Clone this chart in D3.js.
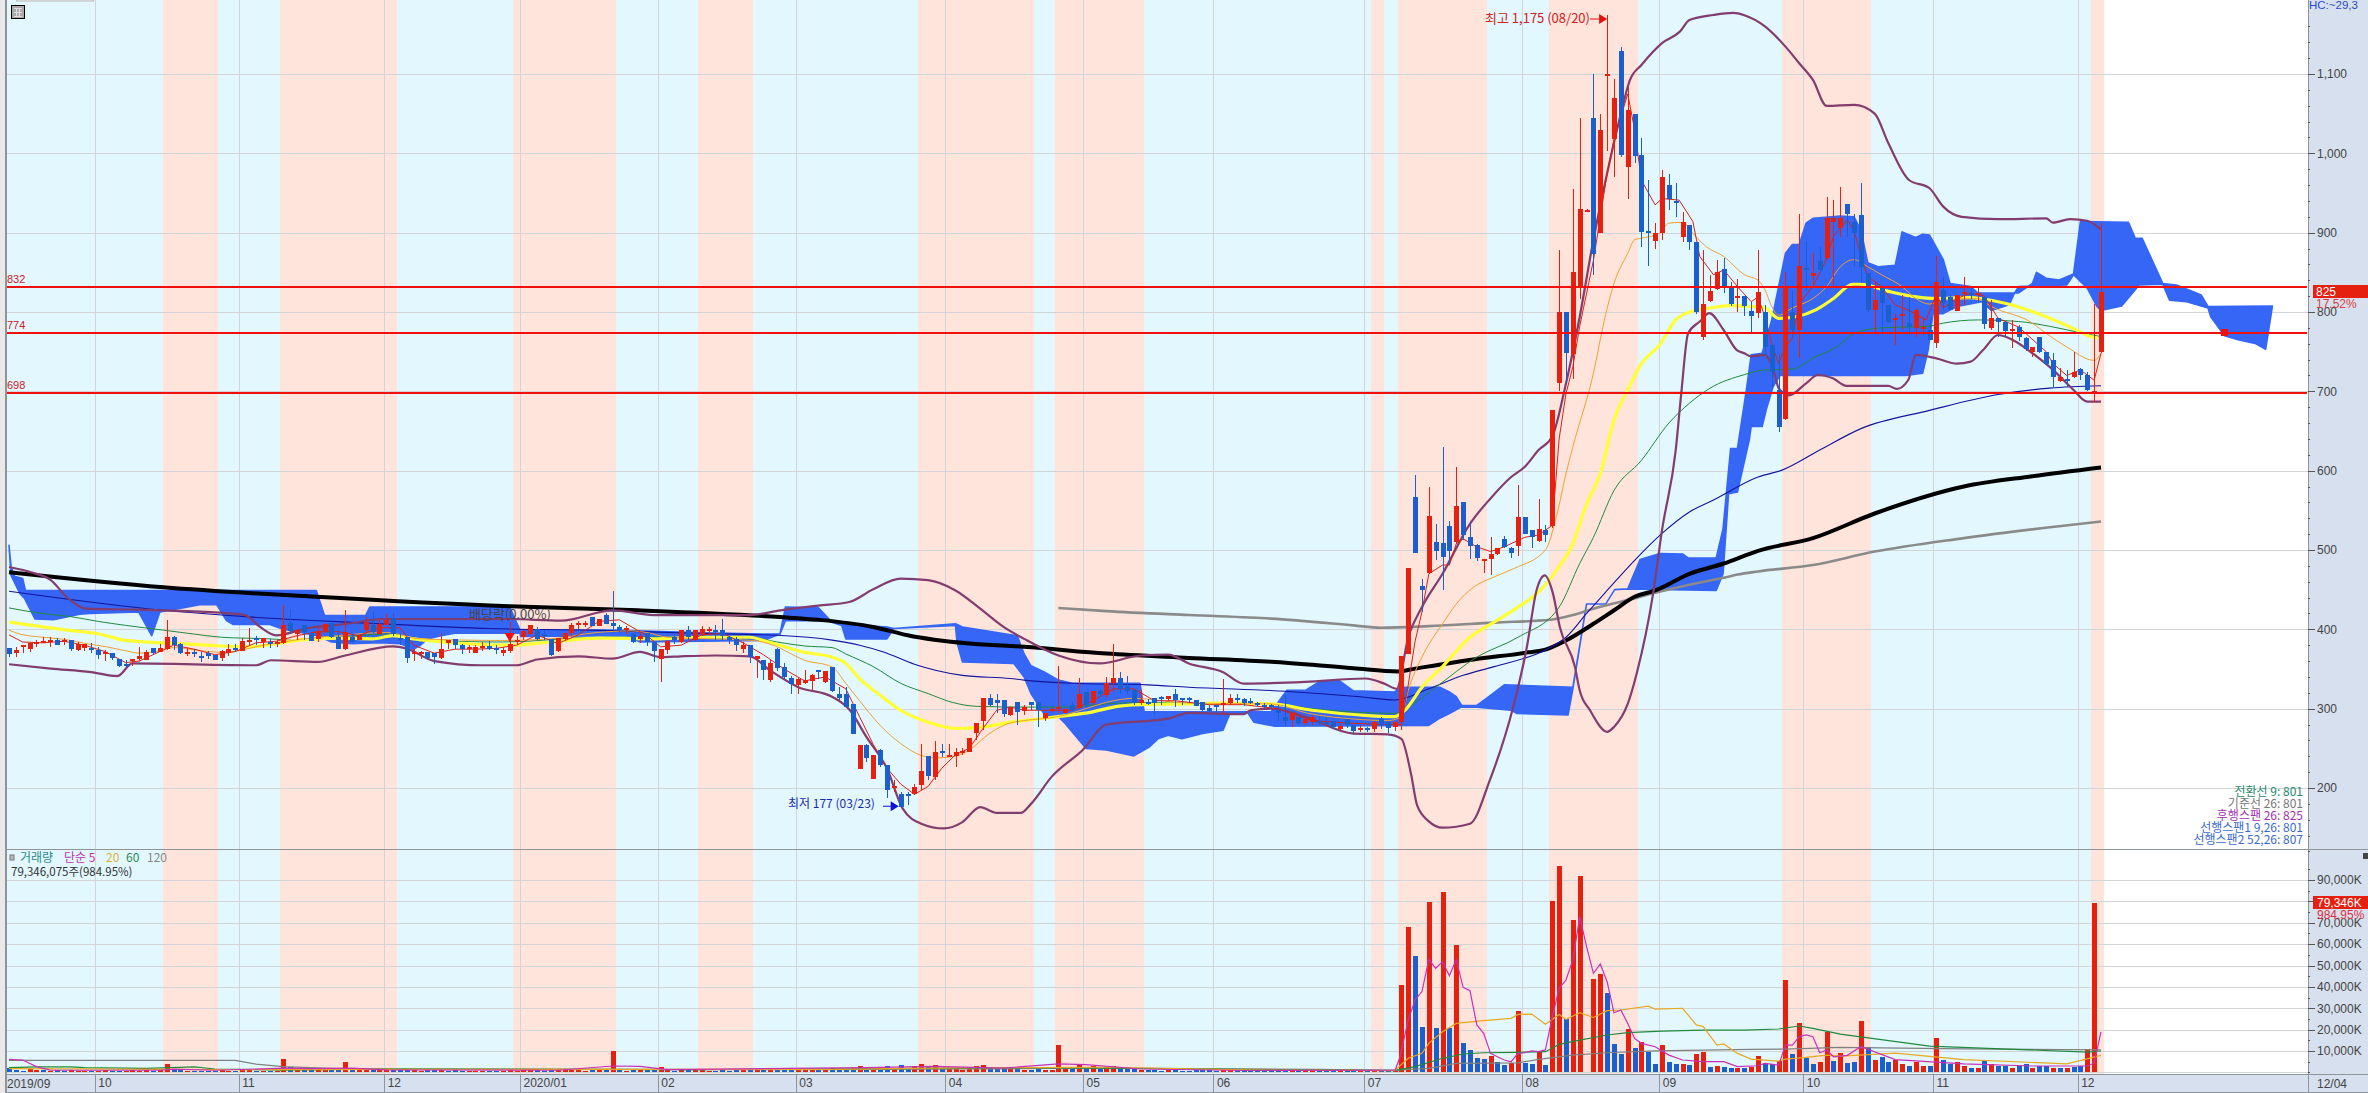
<!DOCTYPE html>
<html><head><meta charset="utf-8">
<style>html,body{margin:0;padding:0;background:#fff;overflow:hidden}svg{display:block}
text{font-family:"Liberation Sans",Arial,sans-serif}
.kr{font-family:"Noto Sans CJK KR","Liberation Sans",sans-serif}</style>
<script src="https://cdn.jsdelivr.net/npm/d3@7/dist/d3.min.js"></script>
</head><body><svg id="c" width="2368" height="1093"></svg>
<script>
// ---- candles: [open, high, low, close]
const candles2019=[[377,377,365,369],[370,378,365,374],[378,380,370,380],[375,383,371,383],[382,387,378,384],[384,390,383,385],[384,390,378,387],[387,389,380,381],[385,389,380,386],[387,387,373,376],[373,384,373,381],[376,381,373,381],[377,383,370,374],[374,378,363,368],[368,374,360,371],[370,370,361,364],[363,363,353,354],[356,361,352,355],[359,363,354,362],[362,378,360,366],[362,374,361,372],[377,377,368,371],[372,382,371,377],[375,412,374,390],[390,392,374,380],[381,383,369,370],[370,377,366,372],[372,375,365,370],[367,371,359,365],[370,373,363,366],[368,368,361,362],[364,374,360,373],[370,382,367,375],[376,382,371,375],[373,389,373,385],[385,402,380,386],[389,392,380,387],[384,389,377,389],[384,388,377,382],[383,388,378,384],[383,431,381,406],[408,426,394,398],[394,401,386,399],[405,405,387,396],[396,396,386,386],[388,403,384,398],[398,408,396,407],[408,408,389,390],[390,399,375,375],[375,425,374,397],[390,394,383,384],[387,393,386,393],[399,415,396,409],[405,422,395,396],[395,413,394,407],[406,419,405,412],[414,420,392,394],[389,394,380,386],[390,390,357,364],[370,375,360,371],[368,373,363,371],[371,371,361,363]];
const candles2020a=[[370,370,356,365],[364,394,363,375],[382,386,375,386],[388,388,375,380],[380,382,369,375],[375,380,370,378],[370,380,370,378],[378,384,373,379],[379,385,374,375],[377,380,369,375],[370,378,367,374],[372,409,370,381],[384,391,380,386],[390,399,386,398],[394,405,393,405],[401,403,386,388],[393.5,399,386,392],[388,388,367,368],[372,389,371,389],[387,395,385,395],[395,408,391,405],[407,411,401,408],[407,411,403,408],[415,416,404,404],[404,413,404,413],[418,420,407,407],[408,448,399,404],[403,405,396,399],[400,404,394,402],[394,396,383,384],[388,396,383,392],[396,396,379,385],[384,384,359,373],[363,375,333,375],[374,387,369,385],[390,392,381,386],[384,399,383,399],[399,404,386,390],[386,399,385,399],[394,404,392,400],[399,403,394,401],[399,405,386,396],[399,413,386,391],[390,392,382,386],[388,390,373,380],[375,384,370,380],[380,380,357,365],[363,367,339,367],[361,361,336,348],[335,361,334,357],[375.5,377,348,352],[353,357,338,340],[339,341,319,331],[330,339,319,337],[332,349,331,336],[335,344,323,343],[349,349,338,346],[333,347,332,347],[352,352,321,322],[319,327,311,314],[318,327,304,302]];
const candles2020b=[[306,306,268,268],[224,254,224,254],[254,256,233,238],[211,241,211,241],[248,249,227,229],[229,229,188,197],[200,210,195,202],[193,195,177,177],[192,195,178,190],[192,205,191,201],[204,256,197,222],[240,240,210,215],[215,259,210,246],[247,256,239,246],[239,255,239,241],[240,250,226,245],[246,250,241,247],[245,263,245,263],[269,282,260,282],[284,313,273,313],[313,318,303,304],[311,319,295,307],[311,311,289,293],[292,302,291,302],[308,308,280,295],[297,304,292,302],[308,308,298,304],[308,308,277,298],[288,294,285,294],[298,302,296,300],[300,354,294,302],[295,300,294,300],[304,308,297,298],[300,339,299,318],[321,321,302,304],[307,322,305,322],[322,325,315,318],[317,340,314,332],[333,382,321,339],[339,346,319,325],[329,341,318,323],[324,324,304,308],[307,323,304,311],[308,312,304,306],[313,313,292,307],[315,316,304,313],[312,316,310,316],[319,325,302,312],[313,313,304,311],[313,315,307,311],[311,311,303,304],[309,309,297,299],[301,304,296,297],[304,305,295,303],[304,337,292,307],[307,319,305,313],[313,319,307,311],[312,314,303,307],[310,313,306,308],[307,308,303,305],[305,307,301,303],[304,306,299,301],[298,304,284,294],[290,317,280,284.5],[286,296,277,295],[290,290,280,282],[282,288,279,287],[283,292,279,289],[285,289,280,283],[283,289,280,281],[284,285,275,277],[274,281,273,278],[287,287,276,280],[280,280,269,272],[274,279,271,276],[276,277,271,275],[274,285,271,283],[287,290,275,279],[283,285,269,275],[277,285,272,283],[283,366,273,366],[369,477,369,477]];
const candles2020c=[[567,594,496,496],[454,464,422,449],[471,579.5,470,542.5],[510,533,487,499],[509,630,449,491],[530,537,481,499],[511,604,508,556],[561,561,512,520],[516,535,489,505],[506,508,486,490],[487,489,471,489],[489,516,468,495],[495,502,494,502],[514,518,503,504],[502,504,490,496],[504,582,493,541],[542,542,520,521],[525,525,503,516],[511.5,564,510,526],[525,531,510,519],[530,676,528,676],[710,878,700,799.6],[799.6,799.6,710,748],[748,954.6,716,851],[830,1044,817,929.4],[928,930,928,929],[1044,1100,847,872],[899,1050,899,1029.4],[1099,1175,1003,1100],[1018,1094,970,1070],[1129,1134.5,995,998],[983,1083,942,1055],[1050,1050,988,997],[998,1019,882,901],[902,966,858,901],[889,912,880,899],[900,979,891,970],[960,974,929,942],[940,963,920,939],[894,926,888,913],[910,910,878,888],[888,888,798,800],[768,878,765,810],[813,847,813,826],[829,866,828,850],[854,868,824,832],[833,838,808,810],[819,842,800,820],[820,820,795,808],[801,813,775,795],[798,878,792,825],[800,809,746,756],[759,759,704,725],[702,746,649,655],[665,851,664,832],[800,826,769,777],[777,924,742,858],[856,889,826,854],[845,874,832,849],[864,882,851,853],[868,945,866,918],[914,941,834,919],[906,957,895,919],[936,936,895,923],[913,924,857,899],[922,963,836,857],[849,849,800,802.5],[802.5,836,773,815],[830,830,773,811],[809,809,786,788],[789,798,758,792],[796,821,779,798],[786,819,771,781],[779,805,769,802],[780,794,771,781],[777,794,765,765],[761,870,754,838],[828,844,802,811],[819,823,803,803],[802,822,802,822],[823,844,809,825],[824,832,816,823],[821.5,831,814,823.5],[819,819,779,785],[780,815,777,792],[792,792,769,787],[787,787,769,776],[776,790,755,778],[781,783,764,769],[767,769,751,753],[750,756,743,756],[768,768,748,749],[750,750,733,735],[739,748,704,718],[713,729,712,718],[715,727,706,713],[718,749,717,724],[728,729,714,721],[721,724,701,702],[698,810,687,701],[749,912,748,825]];
const candles=candles2019.concat(candles2020a,candles2020b,candles2020c);

// ---- volume, thousand K; negative = drawn blue
const volA=[-1.9,-1.1,-.6,1.6,1.1,-.9,.8,-.9,-.8,.9,.7,.6,-.7,.5,1.1,-.5,-.7,.7,1,.8,1.2,-.7,1,3.9,-1.5,-1,.8,-.6,-.7,-.7,-.6,1,.7,-.6,1.2,.9,-.7,.6,-.7,.8,6.2,-2.4,1.1,-1,-.9,1.4,1.5,-1.2,-1.1,4.8,-1.7,1.1,1.4,-1.5,1.3,.9,-1.6,-1.2,-1.8,1.1,.8,-.9];
const volB=[-.9,1.5,-.8,-.9,-.7,.7,.8,.6,-.6,-.6,.8,1.3,.8,1.2,1.4,-1,-.8,-1.4,1.2,1.1,1.4,.9,.8,-1.3,.9,-1.3,10,-1.2,.8,-1,.9,-1.2,-1.5,2.6,1.3,-.8,1.4,-1.1,1.3,1.1,.8,-.8,-1.1,-.8,-.9,.9,-1.3,1.8,-1.4,2,-1.6,-1.2,-1,1.1,1,1.3,-.9,1.4,-2,-1.3,-1.5];
const volC=[-2,3,-1.9,2.6,-1.8,-3.2,1.5,-3.5,-1.9,3,3.8,-2.6,3.4,-1.7,1.6,2,1.2,2.6,2.8,3.6,-2.2,-1.7,-1.9,1.4,-1.8,1.2,-1.3,-1.5,1.2,1,12.8,2,-1.4,3.5,-2,2.8,-1.4,2.6,3.2,-2,-1.6,-1.6,1.1,-.9,-1.1,-.8,.9,-1.1,-.7,-.7,-1,-1.2,-.9,-.7,1.8,1.2,-.7,-.8,-.6,-.6,-.6,-.7,-1,-1.2,1,-.8,.8,.8,-.6,-.6,-.8,.6,-.8,-.9,.5,-.5,.9,-.8,-.8,.7];
const volD=[40.9,68,-54.4,-21.2,79.7,-20.7,84.2,-20.9,59.6,-13.7,-10.5,-6.7,-6.2,7.6,-5,-3.4,4.4,28.7,-4.4,-3.9,9.4,-3.4,80.2,96.6,-25,71.3,91.9,0,43.7,46,-37.1,-13.3,-8.6,20.3,-11.4,14.2,-9.5,-3.9,12.8,-4.8,-3.9,3.9,-3.4,8.6,9.5,-2.5,3,-2.5,-2,2,-2.2,2.5,7.6,-4.4,-3.9,5.3,43.2,-8.6,23.1,-6.7,-3.9,4.8,19,-5.3,8.9,-4.5,-5,24,-12,6,-7,-5,6,4,-3,5,3,-3,16,-6,-4,5,3,-2,2,-6,4,-3,-3,2,-3,-4,2,-3,-3,2,-2,2,-2.5,-3,11,79.346];
const volumes=volA.concat(volB,volC,volD);

// ---- moving averages and bands as [bar, value] readings
const ma5=[[0,393],[2,384],[5,383],[8,385],[11,380],[14,372],[17,358],[19,360],[21,368],[24,380],[27,375],[30,368],[33,372],[36,383],[39,385],[42,392],[45,397],[48,397],[51,392],[54,402],[57,402],[59,380],[62,370],[65,375],[68,375],[71,376],[74,380],[77,393],[80,382],[83,393],[86,410],[89,412],[91,402],[93,392],[95,378],[98,380],[101,393],[104,395],[107,383],[110,368],[113,350],[116,335],[119,340],[122,325],[124,290],[126,255],[128,225],[130,205],[132,192],[134,202],[136,225],[138,242],[140,250],[142,275],[144,298],[146,302],[148,298],[152,298],[155,298],[158,310],[161,325],[164,325],[167,310],[170,310],[175,305],[180,305],[185,300],[190,285],[195,282],[200,280],[203,280],[204,330],[205,385],[206,422],[207,470],[209,481],[210,481],[211,508],[212,514],[214,504],[216,498],[218,504],[221,516],[223,519],[225,531],[226,640],[227,697],[228,731],[229,782],[231,865],[233,975],[234,1017],[236,1075],[237,1030],[238,966],[240,935],[241,943],[243.5,941],[245.5,914],[246.5,870],[248.5,847],[250,853],[252,832],[254,813],[255,819],[256,794],[257,760],[258,735],[259,756],[260,767],[261,811],[263,832],[264.7,861],[266,895],[268,916],[269,903],[270,870],[271,845],[273,832],[275,809],[277,802],[279.5,790],[281,823],[282,805],[284,817],[286,824],[288,820],[290,792],[293,781],[297,750],[298,735],[300,720],[302,727],[304,714],[305,748]];
const ma20=[[0,399],[1.6,394],[5,390],[8.4,387],[11.3,382],[14.2,378],[17,373],[19,370],[22,373],[24,377],[28,373],[31,371],[34,374],[37,380],[40,384],[43,388],[48,392],[55,396],[60,388],[72,386],[79,388],[85.7,396],[90.7,398],[93,396],[96,390],[108.5,386],[111.4,380],[116,361],[120,352.6],[122,332],[124,310],[127,279],[130,256],[133,241],[135,238],[138,240],[140,248],[143,269],[145.6,281],[148,285],[153,290],[157,300],[160,308],[164,313],[172,307],[184,306],[189.5,294],[196,287],[201,285],[203,290],[204,323],[206,365],[209,407],[211,432],[213.5,453],[216.5,466],[219.5,477],[224,500],[225.6,542],[227,596],[228,630],[231,723],[232.6,790],[234,836],[236,874],[237,891],[238,893],[240.6,899],[242,912],[244,913],[245.5,899],[247.5,882],[250,870],[253,847],[255,840],[256,828],[257,807],[258,796],[260,805],[263,817],[265,832],[267,857],[269,866],[271,857],[273,847],[276,832],[278,817],[280,810],[282,815],[287,817],[289,807],[295,786],[297,773],[300,756],[304,739],[305,748]];
const ma60=[[0,409],[5,403],[8.5,399],[13,394.4],[17,386],[22.5,383],[27,381],[31,379],[35,378],[39,382],[43,387],[48,389],[53,388],[56,392],[59,388],[61,386],[73,380],[79,384],[86,389],[94,388],[101,390],[108,390],[110,386],[116,371],[120,365],[122,357],[124,338],[127,317],[130,298],[134,283],[138,275],[142,277],[146,283],[150,287],[153,290],[158,296],[161,302],[165,305],[172,306],[177,307],[184,306],[190,298],[197,292],[202,290],[203.5,298],[206,327],[209,353],[213,390],[216.5,409],[220,428],[223,447],[226,479],[228,508],[230,558],[232,596],[234,664],[236,702],[238,735],[240.6,758],[243,790],[245,800],[248,805],[251,808],[254,807],[256,805],[258,792],[260.5,794],[263.5,803],[266,817],[268.8,835],[270,835],[274,826],[278,819],[281,817],[285.5,818],[291,811],[297,794],[302,775],[303.5,769],[304.5,767]];
const maGreen=[[0,427],[4,421],[9,416],[13,410],[17,405],[22.5,399],[27,394],[31,390],[38,388],[42,386],[48,390],[55,394],[59,388],[61,386],[72,384],[86,390],[94,390],[108,390],[112,384],[116,379],[120,377],[122,369],[126,353],[130,332],[134,319],[137.5,308],[141,303],[148,302],[154,302],[160,306],[166,308],[172,307],[184,306],[190,300],[202,294],[204,302],[208,327],[214,365],[220,390],[226,428],[229,483],[231,516],[234,575],[238,613],[242,660],[245,685],[248,704],[253,721],[256,727],[260,728],[263,742],[266.5,756],[269,773],[273,780],[279.8,782],[282,786],[287,790],[293,788],[297.5,782],[302.5,773],[305,769]];
const ma120=[[0,448],[22.5,424],[31,418],[38,414],[52,408],[70,401],[85,399],[100,395],[112,392.5],[120,386.4],[124,380],[127.5,371.5],[132,356],[139,342],[146,338],[148,336],[155,332],[166,330],[172,327],[186,322],[197,315],[202,311],[207,325],[212,342],[216.5,353],[224,374],[227,390],[230,420],[233,449],[237,487],[241,521],[245,548],[248.5,563],[255,592],[258.6,601],[264,626],[270,653],[280,676],[290,696],[297.5,704],[305,707]];
const ma240=[[0,472],[22.5,453],[44.8,441],[73,429],[91.7,424],[112.4,415.5],[118,412],[126,403],[131,392.5],[140,382],[148,378],[160,369.4],[172,364],[184,359],[196,351],[202.5,347],[205,350.5],[213.5,362],[221.5,371],[224,374.5],[227,386],[231,407],[234,424],[237,441],[240,449],[245,470],[250,483],[255,499],[263,515],[272,546],[285,580],[295,593],[305,604]];
const maGray=[[153,427],[160,423],[172,418],[184,413.5],[196,405],[200,402],[207,404],[216.5,408.5],[224.7,412],[228,418],[231,426],[236,437],[240,446],[246,458],[250,465],[252,469],[255,473],[263,481],[272,498],[285,515],[305,536]];
const bbUpper=[[0,478.6],[3.2,472],[6.1,462],[8.4,441],[11.3,426],[17.3,425],[22.5,424],[30.7,421],[34.4,418],[36.6,403],[38.9,392.5],[43.3,401],[49.3,407],[54.5,413],[63.4,413],[73,413],[80.5,411],[88,424],[94,418],[99,418],[108,418],[112.5,424],[118,430],[122.5,434.5],[126,450.5],[130,464],[134,462],[138,449],[141.6,426],[145,403],[148,388],[153,367],[159,357],[165,367],[169,368],[172,357],[177,346],[180,331.6],[189,333.7],[197.7,338],[200.5,331.6],[202.3,325],[204,390],[206,428],[209,470],[213,533],[216,565],[219,592],[221,605],[223,626],[225,643],[227,710],[229,794],[231,891],[233,975],[235,1050],[236.3,1092],[238,1111.4],[241,1139],[243.6,1153.4],[245,1168],[248.5,1174.4],[251.4,1177],[253,1174],[256,1160],[259,1134.5],[261,1113.5],[263,1092.5],[265,1059.7],[269,1061],[272,1050],[274,1012.6],[277,966.4],[280,956],[282,932.8],[284.7,920],[290,917],[297,918],[298,912.6],[300.5,917],[303,915],[305,904]];
const bbLower=[[0,356],[6.1,350.5],[12,346],[15.8,341],[18,357],[36,354.7],[38.2,361],[45,359],[49,367],[56,378.6],[58,375.7],[62,360],[69,354.7],[74,354.7],[77,362],[83,366],[88,363],[92,371.5],[95,365],[98,366],[103,367],[108,366],[111,348],[115,327.4],[120,315],[122.6,298],[125,264.4],[128,224.5],[130.3,174],[133,155],[136.3,149],[139,157],[141.6,176],[144,168.6],[147.5,168.6],[149,180],[152,214],[156.5,247.6],[160,280],[169,287.5],[172,294.6],[180,293],[181,298],[184,300],[189,289.6],[196,268.6],[201,267.7],[203,262],[204.4,218],[205.3,178],[207,158],[209,150],[213,155],[215.9,210],[219.3,302],[221.3,378],[222.7,449],[223.9,468],[225.1,445],[226.1,403],[228.3,352.7],[229,323],[230.5,298],[233,270.8],[234,277],[236,306],[237.3,344],[239.7,445],[241,525],[243,626],[243.8,697],[244.8,773],[246.5,788],[247.9,798.5],[250,777],[251.9,752],[253,748],[254,744],[256,746],[257.4,722.6],[258,704],[259.5,695],[262,710],[263.7,720.6],[265.9,716.4],[267.9,707],[274,707],[275.2,703],[276.9,714.3],[278,746],[281,741.6],[284,735],[286,737.4],[287.8,752],[290,771],[292.6,762.6],[295,748],[298,727],[301,701.7],[303,687],[305,687]];

// ---- ichimoku cloud edges as [bar, value]
const cloudUpper=[[0,506],[.3,479],[.8,467],[2,464],[2.4,449],[44.8,449],[46,417.5],[52,417.5],[52.6,428],[73,428],[74.5,399],[88,399],[100,396],[110,394],[112.4,394],[113.2,428],[118,427],[120,409],[121.4,407],[128,403],[129,401],[138,407],[139,403],[147,392],[148,369],[149,354],[151,346],[153,336],[155,332],[164.9,332],[165.5,296],[180.5,296],[184,296],[186.3,323],[189,323],[191,333.7],[194,335],[196,322.4],[202,321],[203,327],[208.6,327],[210,321],[211,315],[211.8,304],[214,304],[215.7,315],[218,330],[228,327],[230,432],[232.8,432],[234.1,450],[236,451],[237.8,488],[240.7,495.5],[244,495],[244.8,490],[248.9,490],[249.9,527],[251,628],[252,628],[253.3,702],[254,746],[255.6,748],[257,790],[259,874],[260,885],[261,885],[262,912],[263,918],[267,921],[269,920],[270,903],[271,862],[272.5,857],[275,859],[276,901],[278,894],[279,898],[280,897],[282,866],[283,836],[286,832],[287,824],[293,824],[295,836],[295.6,850],[297,842.5],[298.9,840.4],[301,848],[302,914],[309,913],[310,893],[311,893],[314,836],[316,834],[319.6,821.5],[320.6,807],[330,807.6]];
const cloudLower=[[0,506],[.3,468],[1.6,445],[2.3,438.5],[3.8,413],[6.5,412],[10.3,419],[11.8,420],[18.9,422],[20.8,392],[22,422],[25.9,428],[27.8,431],[30.3,431],[31.7,411],[32.7,406],[38,406],[40,400],[45,392],[47,384],[50,382],[54,383],[57,382],[59,375],[60,380],[61,388],[63,392],[65,395],[74.5,395],[74.6,391],[90,392],[92,384],[110,386],[112.4,394],[113.2,411],[119.6,411],[120,409],[121.4,405],[122,388],[128,388],[129,401],[138,405],[138.2,384],[139,359],[146.5,357],[148,340],[149,319],[151,292],[153,290],[154,281],[157,250],[160,248],[164,240.5],[166.3,252],[167.5,262],[169,266.5],[171,262],[174,268.6],[177,273],[178,294],[180.5,296],[181.5,283],[184.5,278],[207,279],[208.6,288],[210,294],[211.7,302],[214,302],[219,298],[219.8,294],[227.3,292],[228,325],[230,432],[232.8,432],[234.1,450],[236,451],[248.9,449],[249.9,470],[250.7,571],[252,573],[253.7,638],[254,655.6],[255.6,655.7],[256.2,677],[257.2,706],[258.2,720],[276.6,720],[279,723],[279.8,752],[280.5,798],[282,798],[284,807],[287.6,813],[289,802],[291.6,809],[292.4,824],[293,832],[300,834],[301,847],[303,830],[304.4,807],[305,802],[308,807.6],[310,828],[310.5,834],[314,835],[315,815],[317.5,813],[320.6,805],[321,794],[323,770],[325,765],[327.6,760],[329,753],[330,807.6]];

// ---- volume averages as [bar, thousand K]
const vma5=[[0,6.1],[2,5.8],[4,2.7],[6,1.1],[22,1],[24,1.5],[30,1],[40,2],[44,1.8],[50,2],[55,1.2],[80,1],[88,3],[92,2.8],[96,1.3],[125,2.2],[135,2.8],[145,2],[153,4],[157,3.6],[165,1.6],[180,.9],[202.1,1.1],[202.8,7.3],[204,24.5],[205,33.9],[206,37.8],[207,52.9],[208,48.7],[209,51.8],[210,45.2],[211,52.9],[212,39.8],[213,38.2],[214,22.2],[215,18.3],[216,8.9],[217,7.3],[218,5.8],[219,5],[220,8.9],[221,9.2],[222,10.1],[223,9.7],[224,10.5],[225,26],[226,39.3],[227,43.2],[228,52.6],[229,72.9],[230,58.8],[231,46.3],[232,50.7],[233,42.4],[234,27.9],[235,29.2],[236,22.9],[237,15.9],[238,13.6],[240,12],[242,8.1],[244,5.8],[247,5],[250,5],[252,2.7],[255,3.1],[256,4.2],[258,3.4],[259,12.8],[260,12.8],[261,16.7],[262,17.5],[263,16.7],[264,9.2],[265,10.5],[266,7.3],[268,8],[270,12],[275,6],[285,4],[295,3],[303,3],[304,4.3],[305,19]];
const vma20=[[0,1.8],[30,1.3],[60,1.4],[120,1.4],[140,2.2],[160,2.4],[180,1.2],[202,.8],[204,6.6],[206,8.9],[207,13.6],[209,19],[211,22.9],[215,24.2],[219,25.3],[220,27.1],[222,27.3],[224,22.5],[226,27.1],[227,24.8],[229,27.9],[231,25.7],[233,28.9],[235,29.2],[239,31],[240,29.6],[244,30],[246,22.2],[247,21.4],[249,12.8],[250,13.3],[252,8.9],[254,6.2],[258,5.3],[259,6.2],[262,7],[265,8.1],[267,7.6],[275,9],[285,6],[300,4],[305,8]];
const vma60=[[0,2.2],[4,2.6],[9,2.6],[11,2.2],[20,1.9],[27,2.6],[30,1.6],[40,1.1],[57,1.7],[100,1.3],[150,2.2],[175,1.6],[194,1.1],[202,.8],[205,2.7],[209,6.6],[212,8.6],[215,9.2],[220,9.4],[224,9.7],[226,13.1],[229,15.1],[233,17.5],[236,18.6],[241,19.3],[247,19.8],[253,19.8],[258,20.3],[261,21.7],[263,20.6],[267,17.9],[280,12.3],[303,9.5],[305,10]];
const vma120=[[0,5.6],[33,5.6],[36,3.9],[40,2.7],[47,1.9],[56,1.4],[120,1.3],[160,2],[190,1.4],[202,1.1],[207,1.9],[211,4.2],[220,4.5],[223,6.1],[228,8.1],[233,9.2],[240,10.1],[254,10.8],[259,10.9],[267,11.7],[285,11],[305,10.5]];

// ---- shaded periods, month marks, ticks and labels
const upBands=[[22.5,30.5],[39.5,56.5],[73.5,88.5],[100.5,108.5],[132.5,149.5],[152.5,165.5],[198.5,200.5],[202.5,215.5],[224.5,237.5],[258.5,271.5],[303.5,305.5]];
const monthBars=[12.5,33.5,54.7,74.5,94.6,114.7,136.5,156.6,175.6,197.6,220.6,240.6,261.6,280.5,301.6];
const monthLabels=["10","11","12","2020/01","02","03","04","05","06","07","08","09","10","11","12"];
const priceTicks=[200,300,400,500,600,700,800,900,1000,1100];
const volumeTicks=[10000,20000,30000,40000,50000,60000,70000,80000,90000];
const levelLines=[832,774,698];
const ichimokuLegend=[["전환선 9: 801","#1e8a6a"],["기준선 26: 801","#777777"],["후행스팬 26: 825","#a030b0"],["선행스팬1 9,26: 801","#3a6ad0"],["선행스팬2 52,26: 807","#3a6ad0"]];
const volumeLegend=[["거래량","#2a8a8a"],["단순 5","#c030b0"],["20","#e0b030"],["60","#2a8a4a"],["120","#888888"]];

const svg=d3.select("#c");
const L=6,R=2308,PT=0,PB=849,VB=1074,DB=1092;
const x=d3.scaleLinear().domain([0,305]).range([9,2101]);
const yP=d3.scaleLinear().domain([200,1100]).range([788,74]);
const yV=d3.scaleLinear().domain([0,90000]).range([1072.4,880]);
const bgBlue="#e3f7ff",bgRed="#ffe4dc",gridC="#d2d5d8",axisC="#8f9499",panel="#d6e0ee";

svg.append("rect").attr("width",2368).attr("height",1093).attr("fill","#fff");
svg.append("rect").attr("x",0).attr("y",0).attr("width",L-1).attr("height",1093).attr("fill","#e9e9e9");
svg.append("rect").attr("x",R).attr("y",0).attr("width",2368-R).attr("height",1093).attr("fill",panel);
svg.append("rect").attr("x",L).attr("y",VB).attr("width",R-L).attr("height",DB-VB).attr("fill",panel);
const bandEnd=x(upBands[upBands.length-1][1]);
svg.append("rect").attr("x",L).attr("y",PT).attr("width",bandEnd-L).attr("height",VB-PT).attr("fill",bgBlue);
svg.append("g").selectAll("rect").data(upBands).join("rect")
 .attr("x",d=>Math.round(x(d[0]))).attr("width",d=>Math.round(x(d[1]))-Math.round(x(d[0])))
 .attr("y",PT).attr("height",VB-PT).attr("fill",bgRed);

const grid=svg.append("g").attr("shape-rendering","crispEdges").attr("stroke",gridC);
grid.selectAll(".m").data(monthBars).join("line").attr("class","m")
 .attr("x1",d=>Math.round(x(d))+.5).attr("x2",d=>Math.round(x(d))+.5).attr("y1",PT).attr("y2",VB);
grid.selectAll(".p").data(priceTicks).join("line").attr("class","p")
 .attr("x1",L).attr("x2",R).attr("y1",d=>Math.round(yP(d))+.5).attr("y2",d=>Math.round(yP(d))+.5);
grid.selectAll(".v").data(volumeTicks).join("line").attr("class","v")
 .attr("x1",L).attr("x2",R).attr("y1",d=>Math.round(yV(d))+.5).attr("y2",d=>Math.round(yV(d))+.5);
grid.append("line").attr("x1",L).attr("x2",R).attr("y1",1072.5).attr("y2",1072.5);

// cloud
const pLine=d3.line().x(d=>x(d[0])).y(d=>yP(d[1]));
svg.append("path").attr("d",pLine(cloudUpper.concat(cloudLower.slice().reverse()))+"Z")
 .attr("fill","#3566f5").attr("stroke","#3566f5").attr("stroke-width",1.6).attr("stroke-linejoin","round");

// moving averages (smooth) and fast line (straight)
const sLine=d3.line().x(d=>x(d[0])).y(d=>yP(d[1])).curve(d3.curveMonotoneX);
const lineDefs=[[maGray,"#8a8a8a",2.6,sLine],[ma240,"#000000",4,sLine],[ma120,"#14149c",1.1,sLine],[maGreen,"#1e8a3c",1,sLine],[ma60,"#ffff33",3.2,sLine],[ma20,"#f0a030",1,sLine],[bbUpper,"#823c6e",2.2,sLine],[bbLower,"#823c6e",2.2,sLine],[ma5,"#d8201a",1,pLine]];
svg.append("g").attr("fill","none").selectAll("path").data(lineDefs).join("path")
 .attr("d",d=>d[3](d[0])).attr("stroke",d=>d[1]).attr("stroke-width",d=>d[2]).attr("stroke-linejoin","round");

// candles
const red="#e6200f",blue="#1a5fcc";
const cg=svg.append("g").attr("shape-rendering","crispEdges");
const isUp=d=>d[3]>=d[0];
cg.selectAll(".w").data(candles).join("line").attr("class","w")
 .attr("x1",(d,i)=>Math.round(x(i))+.5).attr("x2",(d,i)=>Math.round(x(i))+.5)
 .attr("y1",d=>yP(d[1])).attr("y2",d=>yP(d[2])).attr("stroke",d=>isUp(d)?red:blue);
cg.selectAll(".b").data(candles).join("rect").attr("class","b")
 .attr("x",(d,i)=>Math.round(x(i))-2).attr("width",5)
 .attr("y",d=>Math.round(yP(Math.max(d[0],d[3]))))
 .attr("height",d=>Math.max(2,Math.round(Math.abs(yP(d[0])-yP(d[3])))))
 .attr("fill",d=>isUp(d)?red:blue);

// volume
svg.append("g").attr("shape-rendering","crispEdges").selectAll("rect").data(volumes).join("rect")
 .attr("x",(d,i)=>Math.round(x(i))-2).attr("width",5)
 .attr("y",d=>Math.min(yV(Math.abs(d)*1000),1071.4))
 .attr("height",d=>d===0?0:Math.max(1,yV(0)-yV(Math.abs(d)*1000)))
 .attr("fill",d=>d>=0?red:blue);
const vLine=d3.line().x(d=>x(d[0])).y(d=>yV(d[1]*1000));
svg.append("g").attr("fill","none").selectAll("path").data([[vma120,"#808080"],[vma60,"#1e8a3c"],[vma20,"#e8a820"],[vma5,"#c830b8"]]).join("path")
 .attr("d",d=>vLine(d[0])).attr("stroke",d=>d[1]).attr("stroke-width",1.2);

// level lines
const lv=svg.append("g");
lv.selectAll("line").data(levelLines).join("line").attr("x1",L).attr("x2",R-1)
 .attr("y1",d=>yP(d)).attr("y2",d=>yP(d)).attr("stroke","#f01010").attr("stroke-width",2).attr("shape-rendering","crispEdges");
lv.selectAll("text").data(levelLines).join("text").attr("x",7).attr("y",d=>yP(d)-4).attr("font-size",11).attr("fill","#d02020").text(d=>d);

// marker on the forward cloud
svg.append("rect").attr("x",Math.round(x(323))-3).attr("y",Math.round(yP(775))-3).attr("width",7).attr("height",7).attr("fill","#f01010");

// annotations
const hi=svg.append("g"),lo=svg.append("g");
hi.append("text").attr("class","kr").attr("x",1485).attr("y",23).attr("font-size",13).attr("fill","#d02020").text("최고 1,175 (08/20)");
hi.append("path").attr("d",`M1590,19H${x(233)-5}`).attr("stroke","#e01010").attr("fill","none");
hi.append("path").attr("d",`M${x(233)-8},14L${x(233)},19L${x(233)-8},24Z`).attr("fill","#e01010");
lo.append("text").attr("class","kr").attr("x",788).attr("y",808).attr("font-size",12).attr("fill","#1a2ab0").text("최저 177 (03/23)");
lo.append("path").attr("d",`M883,${yP(177)}H${x(130)-6}`).attr("stroke","#1010d0").attr("fill","none");
lo.append("path").attr("d",`M${x(130)-10},${yP(177)-5}L${x(130)-2},${yP(177)}L${x(130)-10},${yP(177)+5}Z`).attr("fill","#1010d0");
svg.append("text").attr("class","kr").attr("x",469).attr("y",619).attr("font-size",13).attr("fill","#444").text("배당락(0.00%)");
svg.append("path").attr("d",`M${x(73)-5},633H${x(73)+5}L${x(73)},642Z`).attr("fill","#f01010");

// dividers and axes
const fr=svg.append("g").attr("stroke",axisC).attr("shape-rendering","crispEdges");
fr.append("line").attr("x1",L).attr("x2",2368).attr("y1",849.5).attr("y2",849.5);
fr.append("line").attr("x1",L).attr("x2",2368).attr("y1",1074.5).attr("y2",1074.5);
fr.append("line").attr("x1",L).attr("x2",2368).attr("y1",1092.5).attr("y2",1092.5);
fr.append("line").attr("x1",R+.5).attr("x2",R+.5).attr("y1",0).attr("y2",1074);
fr.append("line").attr("x1",L-.5).attr("x2",L-.5).attr("y1",0).attr("y2",1093).attr("stroke-width",2);

function styleAxis(g){g.select(".domain").remove();g.selectAll("line").attr("stroke","#555").attr("shape-rendering","crispEdges");
 g.selectAll("text").attr("font-size",12).attr("fill","#444").attr("font-family",'"Liberation Sans",sans-serif');}
svg.append("g").attr("transform",`translate(${R},0)`)
 .call(d3.axisRight(yP).tickValues(d3.range(120,1180,20)).tickSize(2).tickFormat("")).call(styleAxis);
svg.append("g").attr("transform",`translate(${R},0)`)
 .call(d3.axisRight(yP).tickValues(priceTicks).tickSize(7).tickPadding(2).tickFormat(d3.format(","))).call(styleAxis);
svg.append("g").attr("transform",`translate(${R},0)`)
 .call(d3.axisRight(yV).tickValues(d3.range(0,100000,5000)).tickSize(2).tickFormat("")).call(styleAxis);
svg.append("g").attr("transform",`translate(${R},0)`)
 .call(d3.axisRight(yV).tickValues(volumeTicks).tickSize(7).tickPadding(2).tickFormat(d=>d3.format(",")(d)+"K")).call(styleAxis);
const dateAxis=svg.append("g").attr("transform",`translate(0,${VB})`)
 .call(d3.axisBottom(x).tickValues(monthBars).tickSize(18).tickFormat((d,i)=>monthLabels[i])).call(styleAxis);
dateAxis.selectAll("line").attr("stroke",axisC);
dateAxis.selectAll("text").attr("text-anchor","start").attr("x",3).attr("y",4).attr("dy","0.71em");
svg.append("text").attr("x",7).attr("y",1088).attr("font-size",12).attr("fill","#444").text("2019/09");
svg.append("line").attr("x1",R+.5).attr("x2",R+.5).attr("y1",1075).attr("y2",1092).attr("stroke",axisC);
svg.append("text").attr("x",2317).attr("y",1088).attr("font-size",12).attr("fill","#444").text("12/04");
svg.append("text").attr("x",2309).attr("y",9).attr("font-size",11.5).attr("fill","#2a4ad0").text("HC:~29,3");

// last-value tags
svg.append("rect").attr("x",2313).attr("y",285).attr("width",55).attr("height",13).attr("fill",red);
svg.append("text").attr("x",2316).attr("y",296).attr("font-size",12).attr("fill","#fff").text("825");
svg.append("text").attr("x",2316).attr("y",308).attr("font-size",12).attr("fill","#d84040").text("17.52%");
svg.append("rect").attr("x",2313).attr("y",896).attr("width",55).attr("height",13).attr("fill",red);
svg.append("text").attr("x",2317).attr("y",907).attr("font-size",12).attr("fill","#fff").text("79,346K");
svg.append("text").attr("x",2317).attr("y",919).attr("font-size",12).attr("fill","#e03040").text("984.95%");

// ichimoku legend
svg.append("g").selectAll("text").data(ichimokuLegend).join("text").attr("class","kr")
 .attr("x",2303).attr("y",(d,i)=>796+i*12).attr("text-anchor","end").attr("font-size",12)
 .attr("fill",d=>d[1]).text(d=>d[0]);

// volume legend
svg.append("rect").attr("x",10).attr("y",855).attr("width",4).attr("height",5).attr("fill","#bbb").attr("stroke","#777");
const legendX=[20,64,106,126,147];
svg.append("g").selectAll("text").data(volumeLegend).join("text").attr("class","kr")
 .attr("x",(d,i)=>legendX[i]).attr("y",862).attr("font-size",12).attr("fill",d=>d[1]).text(d=>d[0]);
svg.append("text").attr("class","kr").attr("x",11).attr("y",876).attr("font-size",11.5).attr("fill","#333").text("79,346,075주(984.95%)");

// top-left widgets
svg.append("rect").attr("x",16.5).attr("y",-2).attr("width",77).attr("height",3).attr("fill","#eee").attr("stroke","#bbb");
const ic=svg.append("g").attr("shape-rendering","crispEdges");
ic.append("rect").attr("x",11.5).attr("y",5.5).attr("width",13).attr("height",13).attr("fill","#aaa").attr("stroke","#000");
ic.append("path").attr("d","M14,8.5H22M14,12.5H22M14,16H22M16.5,8V17M19.5,8V17").attr("stroke","#ddd");
svg.append("rect").attr("x",2363).attr("y",853).attr("width",5).attr("height",6).attr("fill","#444");
</script></body></html>
